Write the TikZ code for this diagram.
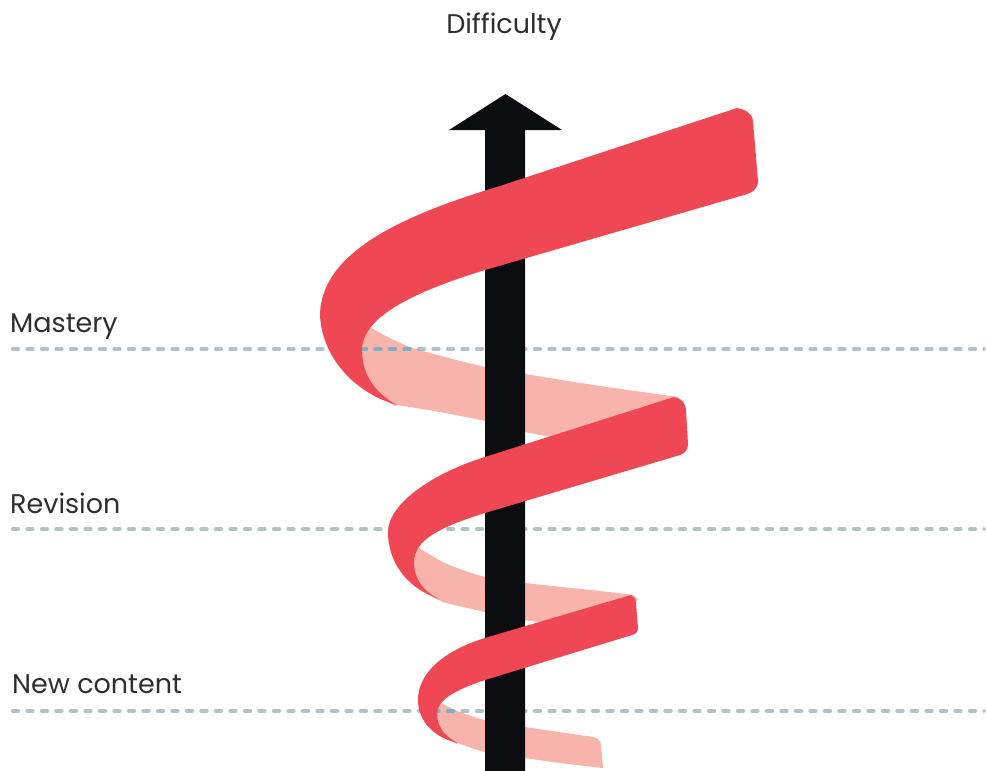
\documentclass[tikz,border=0pt]{standalone}
\usepackage{fontspec}
\setmainfont{Poppins}
\definecolor{ribbonfront}{HTML}{EF4754}
\definecolor{ribbonback}{HTML}{F8B4AB}
\definecolor{dashgray}{HTML}{B3C1C9}
\definecolor{dashblue}{HTML}{7FAEC5}
\definecolor{arrowblack}{HTML}{0C0D10}
\definecolor{txtgray}{HTML}{2E2E2E}
\begin{document}
\begin{tikzpicture}[x=1pt,y=-1pt,
  frontband/.style={fill=ribbonfront},
  backband/.style={fill=ribbonback},
  guideline/.style={line width=3.2pt, dash pattern=on 6pt off 8.5pt, line cap=round},
  txtlabel/.style={font=\fontsize{27}{32}\selectfont, text=txtgray, inner sep=0pt}]
\useasboundingbox (0,0) rectangle (986,771);

\def\pinkA{plot[smooth] coordinates {(366,325) (410,347) (485,367) (525,374) (600,386) (678,397)} -- (684,402) -- (670,415) -- (560,446) -- plot[smooth] coordinates {(557,438) (525,432) (485,421) (440,412) (397,405)} -- (395,406) .. controls (372,393) and (359,375) .. (359,350) -- (366,325) -- cycle}
\def\pinkB{plot[smooth] coordinates {(416,546) (445,563) (485,577) (525,583) (600,591) (633,595)} -- (638,600) -- (620,614) -- (550,633) -- plot[smooth] coordinates {(547,623) (525,620) (485,612) (443,602) (440,599)} -- (438,600) .. controls (423,593) and (412,580) .. (412,562) -- (416,546) -- cycle}
\def\pinkC{plot[smooth] coordinates {(439,702) (460,712) (485,720) (525,727) (593,737)} .. controls (598,738) and (601,741) .. (601,746) -- (603,768) -- plot[smooth] coordinates {(603,768) (560,763) (525,758) (485,752) (458,743)} -- (456,744) .. controls (445,738) and (435,728) .. (435,714) -- (439,702) -- cycle}

% back parts of the ribbon
\fill[backband] \pinkA;
\fill[backband] \pinkB;
\fill[backband] \pinkC;

% guide lines
\coordinate (m1) at (12.5,349); \coordinate (m2) at (984,349);
\coordinate (r1) at (12.5,529); \coordinate (r2) at (984,529);
\coordinate (n1) at (12.5,711); \coordinate (n2) at (984,711);
\draw[guideline, dashgray] (m1) -- (m2);
\draw[guideline, dashgray] (r1) -- (r2);
\draw[guideline, dashgray] (n1) -- (n2);
\begin{scope}
  \clip \pinkA;
  \draw[guideline, dashblue] (m1) -- (m2);
\end{scope}
\begin{scope}
  \clip \pinkC;
  \draw[guideline, dashblue] (n1) -- (n2);
\end{scope}

% axis arrow
\fill[arrowblack] (485,771) -- (485,130) -- (449,130) -- (505.5,94) -- (562,130) -- (525,130) -- (525,771) -- cycle;

% front parts of the ribbon
\fill[frontband] (737,108) -- (500,186) .. controls (400,216) and (321,253) .. (320,315) .. controls (322,358) and (355,393) .. (397,405)
  .. controls (375,393) and (362,375) .. (362,350) .. controls (362,315) and (420,290) .. (485,270)
  -- (744,195) .. controls (752,193) and (758,189) .. (758,181) -- (753,121) .. controls (752,113) and (746,110) .. (737,108) -- cycle;

\fill[frontband] (674,397) -- (485,457) .. controls (430,474) and (388,505) .. (388,532) .. controls (388,565) and (410,590) .. (440,599)
  .. controls (425,593) and (414,580) .. (414,562) .. controls (414,540) and (440,527) .. (485,513)
  -- (680,455) .. controls (685,453) and (688,450) .. (688,444) -- (686,410) .. controls (686,403) and (681,399) .. (674,397) -- cycle;

\fill[frontband] (631,595) -- (485,638) .. controls (440,652) and (418,675) .. (418,700) .. controls (418,722) and (435,738) .. (458,743)
  .. controls (447,738) and (437,728) .. (437,714) .. controls (437,700) and (455,690) .. (485,680)
  -- (632,635) .. controls (636,634) and (638,632) .. (638,628) -- (636,603) .. controls (636,599) and (634,596) .. (631,595) -- cycle;

% labels
\node[txtlabel, anchor=base] (difficulty) at (504,34) {Difficulty};
\node[txtlabel, anchor=base west] (mastery) at (10,332) {Mastery};
\node[txtlabel, anchor=base west] (revision) at (10,513) {Revision};
\node[txtlabel, anchor=base west] (newcontent) at (12,693) {New content};
\end{tikzpicture}
\end{document}
